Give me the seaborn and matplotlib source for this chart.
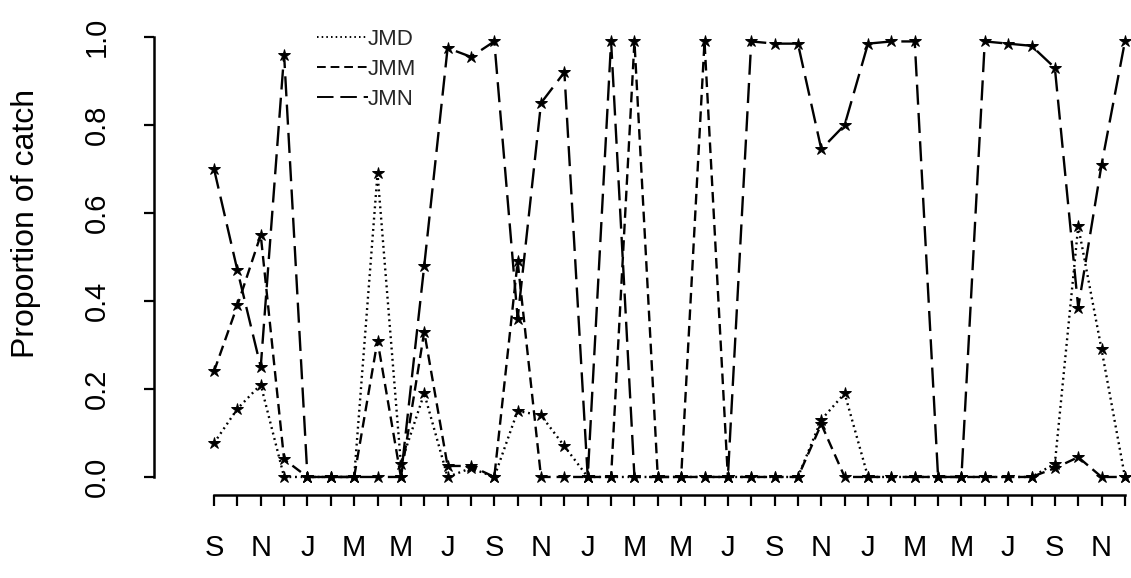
import matplotlib
matplotlib.use("Agg")
import matplotlib.pyplot as plt
from matplotlib.lines import Line2D
import seaborn as sns
import pandas as pd

# ---- data ----
months = list(range(40))
tick_labels = ["S", "", "N", "", "J", "", "M", "", "M", "",
               "J", "", "S", "", "N", "", "J", "", "M", "",
               "M", "", "J", "", "S", "", "N", "", "J", "",
               "M", "", "M", "", "J", "", "S", "", "N", ""]
series_names = ["JMD", "JMM", "JMN"]
JMD = [0.077, 0.155, 0.21, 0.0, 0.0, 0.0, 0.0, 0.69, 0.03, 0.19,
       0.0, 0.02, 0.0, 0.15, 0.14, 0.07, 0.0, 0.0, 0.0, 0.0,
       0.0, 0.0, 0.0, 0.0, 0.0, 0.0, 0.13, 0.19, 0.0, 0.0,
       0.0, 0.0, 0.0, 0.0, 0.0, 0.0, 0.03, 0.57, 0.29, 0.0]
JMM = [0.24, 0.39, 0.55, 0.04, 0.0, 0.0, 0.0, 0.31, 0.0, 0.33,
       0.025, 0.025, 0.0, 0.49, 0.0, 0.0, 0.0, 0.0, 0.99, 0.0,
       0.0, 0.99, 0.0, 0.0, 0.0, 0.0, 0.12, 0.0, 0.0, 0.0,
       0.0, 0.0, 0.0, 0.0, 0.0, 0.0, 0.02, 0.045, 0.0, 0.0]
JMN = [0.70, 0.47, 0.25, 0.96, 0.0, 0.0, 0.0, 0.0, 0.0, 0.48,
       0.975, 0.955, 0.99, 0.36, 0.85, 0.92, 0.0, 0.99, 0.0, 0.0,
       0.0, 0.0, 0.0, 0.99, 0.985, 0.985, 0.745, 0.80, 0.985, 0.99,
       0.99, 0.0, 0.0, 0.99, 0.985, 0.98, 0.93, 0.385, 0.71, 0.99]

df = pd.DataFrame({
    "month": months * 3,
    "prop": JMD + JMM + JMN,
    "series": sum([[n] * len(months) for n in series_names], []),
})

sns.set_theme(style="white")
plt.rcParams["font.family"] = ["Liberation Sans", "DejaVu Sans"]

dash_map = {"JMD": (0.8, 1.6), "JMM": (4.5, 2.5), "JMN": (8.5, 3.5)}

fig = plt.figure(figsize=(11.31, 5.78), dpi=100)
ax = fig.add_axes([154 / 1131, 83 / 578, (1131 - 154) / 1131, (495 - 19) / 578])

sns.lineplot(data=df, x="month", y="prop", style="series", dashes=dash_map,
             markers={"JMD": "*", "JMM": "*", "JMN": "*"}, color="black",
             linewidth=1.7, markersize=9, markeredgecolor="black",
             markeredgewidth=0.7, legend=False, ax=ax, sort=False)

ax.set_xlim(-2.57, 39.26)
ax.set_ylim(-0.041, 1.041)

for s in ["top", "right"]:
    ax.spines[s].set_visible(False)
ax.spines["left"].set_bounds(0, 1)
ax.spines["bottom"].set_bounds(0, 39)
for s in ["left", "bottom"]:
    ax.spines[s].set_color("black")
    ax.spines[s].set_linewidth(1.8)

ax.set_xticks(months)
ax.set_xticklabels(tick_labels)
ax.set_yticks([0, 0.2, 0.4, 0.6, 0.8, 1.0])
ax.set_yticklabels(["0.0", "0.2", "0.4", "0.6", "0.8", "1.0"])
ax.tick_params(axis="x", direction="out", length=8, width=1.6, pad=20,
               labelsize=21, colors="black", bottom=True)
ax.tick_params(axis="y", direction="out", length=7, width=1.6, pad=24,
               labelsize=21, colors="black", labelrotation=90, left=True)
for lab in ax.get_yticklabels():
    lab.set_va("center")

ax.set_xlabel("")
ax.set_ylabel("Proportion of catch", fontsize=23, color="black")
ax.yaxis.set_label_coords(-0.116, 0.57)

handles = [Line2D([0], [0], color="black", linewidth=1.4, dashes=dash_map[n])
           for n in series_names]
ax.legend(handles, series_names, loc="upper left",
          bbox_to_anchor=(308 / 1131, 1 - 20 / 578), bbox_transform=fig.transFigure,
          frameon=False, handlelength=2.3, handletextpad=0.0,
          labelspacing=0.4, fontsize=16, borderaxespad=0)

fig.savefig("out.png", dpi=100, facecolor="white")
